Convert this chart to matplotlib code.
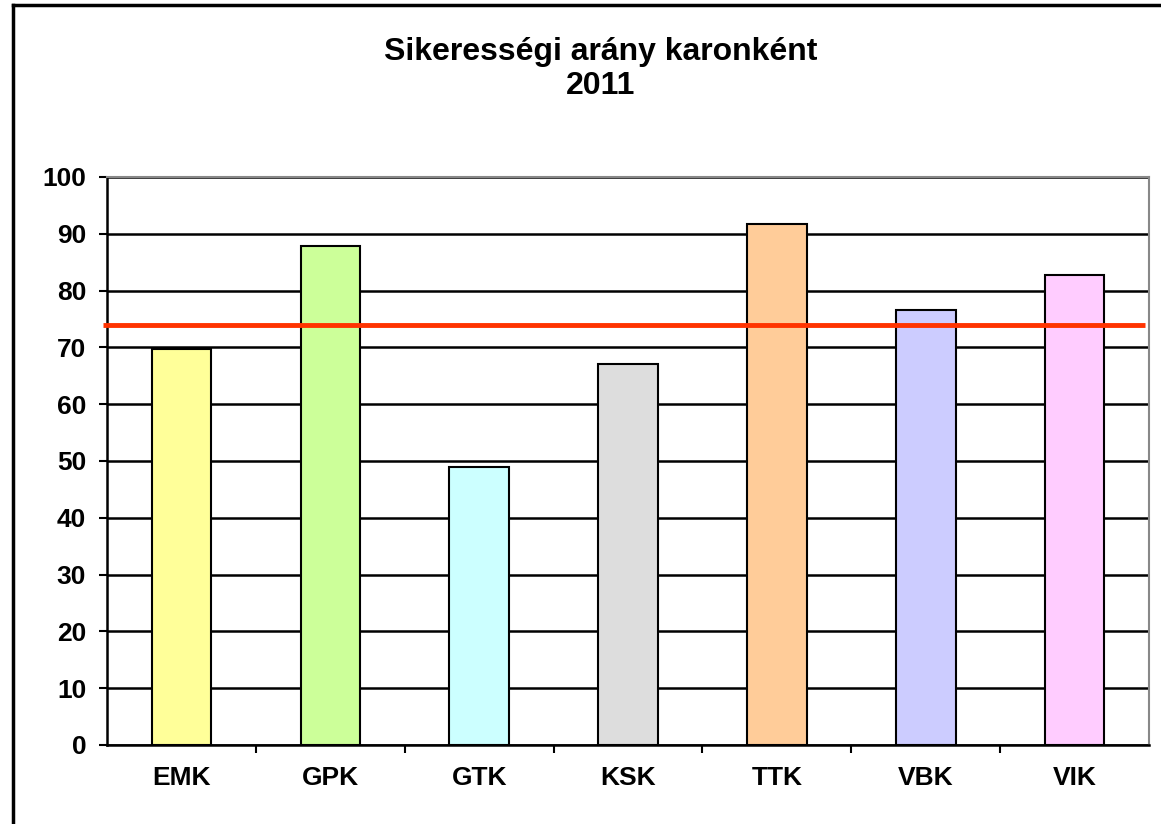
import matplotlib.pyplot as plt
from matplotlib.lines import Line2D

# Data
faculties = ["EMK", "GPK", "GTK", "KSK", "TTK", "VBK", "VIK"]
rates = [69.7, 87.9, 48.9, 67.1, 91.8, 76.6, 82.7]
average = 73.9
colors = ["#FFFF99", "#CCFF99", "#CCFFFF", "#DDDDDD", "#FFCC99", "#CCCCFF", "#FFCCFF"]

plt.rcParams['font.family'] = ['Liberation Sans', 'DejaVu Sans']
plt.rcParams['font.weight'] = 'bold'

fig = plt.figure(figsize=(11.61, 8.24), dpi=100)
ax = fig.add_axes([0.0922, 0.0959, 0.8975, 0.6893])

x = range(len(faculties))
ax.bar(x, rates, width=0.40, color=colors, edgecolor='black', linewidth=1.5, zorder=3)

# Average line (slightly past the left axis, stops short of the right one)
ax.plot([-0.004, 0.9965], [average, average], transform=ax.get_yaxis_transform(),
        color='#FF3300', linewidth=3.5, zorder=4, clip_on=False, solid_capstyle='butt')

ax.set_xlim(-0.5, len(faculties) - 0.5)
ax.set_ylim(0, 100)
ax.set_yticks(range(0, 101, 10))
ax.yaxis.grid(True, color='black', linewidth=1.8, zorder=0)
ax.set_axisbelow(True)

# Category ticks at boundaries, labels at centres
ax.set_xticks([i + 0.5 for i in range(len(faculties) - 1)])
ax.set_xticklabels([])
ax.set_xticks(list(x), minor=True)
ax.set_xticklabels(faculties, minor=True, fontsize=19, fontweight='bold')
ax.tick_params(axis='x', which='minor', length=0, pad=15)
ax.tick_params(axis='x', which='major', length=6, width=1.5, direction='out')
ax.tick_params(axis='y', length=6, width=1.5, direction='out', labelsize=19, pad=9)
for lbl in ax.get_yticklabels():
    lbl.set_fontweight('bold')

for side in ['left', 'bottom']:
    ax.spines[side].set_color('black')
    ax.spines[side].set_linewidth(1.8)
for side in ['top', 'right']:
    ax.spines[side].set_color('#888888')
    ax.spines[side].set_linewidth(1.5)

fig.text(0.517, 1 - 69 / 824, "Sikerességi arány karonként\n2011", ha='center', va='center',
         fontsize=23, fontweight='bold', linespacing=1.17)

# Outer chart border
fig.add_artist(Line2D([13 / 1161, 13 / 1161], [0, 1 - 5 / 824], color='black', linewidth=2.5,
                      transform=fig.transFigure))
fig.add_artist(Line2D([13 / 1161, 1], [1 - 5 / 824, 1 - 5 / 824], color='black', linewidth=2.5,
                      transform=fig.transFigure))

fig.savefig("out.png", dpi=100)
